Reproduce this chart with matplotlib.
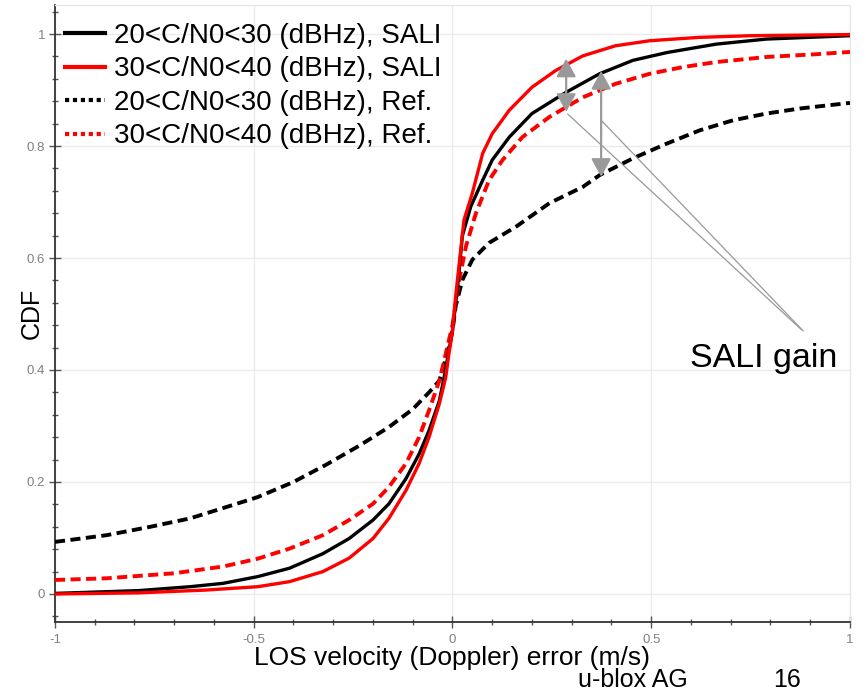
import matplotlib
matplotlib.use('Agg')
import matplotlib.pyplot as plt
from matplotlib.lines import Line2D
from matplotlib.ticker import MultipleLocator

plt.rcParams['font.family'] = ['Liberation Sans', 'DejaVu Sans']

# CDF curves: LOS velocity error (m/s) vs CDF
x_sali_20 = [-1.0, -0.79, -0.66, -0.577, -0.49, -0.41, -0.326, -0.26, -0.20, -0.16, -0.117, -0.084,
             -0.059, -0.033, -0.021, 0.0, 0.013, 0.025, 0.046, 0.076, 0.10, 0.143, 0.20, 0.286,
             0.37, 0.454, 0.54, 0.664, 0.79, 1.0]
y_sali_20 = [0.001, 0.006, 0.013, 0.019, 0.031, 0.046, 0.072, 0.099, 0.132, 0.161, 0.206, 0.25,
             0.292, 0.345, 0.387, 0.47, 0.55, 0.64, 0.692, 0.739, 0.775, 0.816, 0.858, 0.896,
             0.929, 0.953, 0.967, 0.982, 0.991, 0.997]

x_sali_30 = [-1.0, -0.79, -0.62, -0.49, -0.41, -0.326, -0.26, -0.20, -0.16, -0.117, -0.084, -0.059,
             -0.033, -0.017, -0.008, 0.0, 0.008, 0.029, 0.05, 0.076, 0.10, 0.143, 0.20, 0.26,
             0.328, 0.41, 0.496, 0.62, 0.75, 1.0]
y_sali_30 = [0.0, 0.002, 0.007, 0.013, 0.022, 0.040, 0.064, 0.099, 0.135, 0.185, 0.233, 0.28,
             0.34, 0.387, 0.434, 0.47, 0.532, 0.668, 0.716, 0.787, 0.822, 0.864, 0.905, 0.935,
             0.961, 0.979, 0.988, 0.994, 0.997, 0.999]

x_ref_20 = [-1.0, -0.87, -0.76, -0.66, -0.57, -0.49, -0.40, -0.32, -0.234, -0.16, -0.10, -0.059,
            -0.033, -0.013, 0.0, 0.008, 0.025, 0.05, 0.092, 0.16, 0.244, 0.328, 0.37, 0.454,
            0.538, 0.622, 0.706, 0.79, 0.874, 1.0]
y_ref_20 = [0.093, 0.105, 0.12, 0.135, 0.155, 0.173, 0.20, 0.23, 0.265, 0.298, 0.33, 0.36,
            0.381, 0.43, 0.47, 0.514, 0.561, 0.597, 0.627, 0.656, 0.698, 0.727, 0.748, 0.778,
            0.804, 0.828, 0.846, 0.858, 0.867, 0.877]

x_ref_30 = [-1.0, -0.87, -0.70, -0.577, -0.49, -0.41, -0.326, -0.26, -0.20, -0.16, -0.117, -0.084,
            -0.059, -0.033, -0.021, 0.0, 0.017, 0.034, 0.059, 0.092, 0.126, 0.176, 0.244, 0.328,
            0.41, 0.496, 0.58, 0.664, 0.79, 0.916, 1.0]
y_ref_30 = [0.025, 0.028, 0.037, 0.049, 0.063, 0.081, 0.105, 0.132, 0.161, 0.191, 0.233, 0.28,
            0.328, 0.381, 0.417, 0.48, 0.561, 0.621, 0.68, 0.739, 0.775, 0.816, 0.852, 0.887,
            0.911, 0.929, 0.941, 0.95, 0.959, 0.964, 0.968]

labels = ['20<C/N0<30 (dBHz), SALI', '30<C/N0<40 (dBHz), SALI',
          '20<C/N0<30 (dBHz), Ref.', '30<C/N0<40 (dBHz), Ref.']

fig = plt.figure(figsize=(8.66, 6.91), dpi=100)
ax = fig.add_axes([0.0635, 0.0999, 0.918, 0.893])

dash = (0, (2.6, 1.4))
ax.plot(x_ref_20, y_ref_20, color='black', lw=2.8, linestyle=dash, zorder=3)
ax.plot(x_ref_30, y_ref_30, color='red', lw=2.8, linestyle=dash, zorder=3)
ax.plot(x_sali_20, y_sali_20, color='black', lw=2.4, zorder=4)
ax.plot(x_sali_30, y_sali_30, color='red', lw=2.4, zorder=4)

ax.set_xlim(-1, 1)
ax.set_ylim(-0.05, 1.052)
ax.set_xticks([-1, -0.5, 0, 0.5, 1])
ax.set_xticklabels(['-1', '-0.5', '0', '0.5', '1'])
ax.set_yticks([0, 0.2, 0.4, 0.6, 0.8, 1])
ax.set_yticklabels(['0', '0.2', '0.4', '0.6', '0.8', '1'])
ax.xaxis.set_minor_locator(MultipleLocator(0.1))
ax.yaxis.set_minor_locator(MultipleLocator(0.04))
ax.tick_params(which='major', direction='inout', length=8, width=1, color='#555555',
               labelsize=9.5, labelcolor='#808080', pad=3)
ax.tick_params(axis='x', which='major', pad=5)
ax.tick_params(which='minor', direction='inout', length=4, width=1, color='#555555')
ax.grid(True, which='major', color='#ebebeb', lw=1)
ax.set_axisbelow(True)

for side in ['left', 'bottom']:
    ax.spines[side].set_color('#333333')
    ax.spines[side].set_linewidth(1.3)
for side in ['top', 'right']:
    ax.spines[side].set_color('#e8e8e8')
    ax.spines[side].set_linewidth(1)

ax.set_xlabel('LOS velocity (Doppler) error (m/s)', fontsize=19, labelpad=0)
ax.set_ylabel('CDF', fontsize=18)
ax.yaxis.set_label_coords(-0.014, 0.5)

# SALI gain annotation
grey = '#999999'
arrow = dict(arrowstyle='<|-|>,head_length=0.55,head_width=0.3', color=grey, lw=1.6,
             shrinkA=0, shrinkB=0, mutation_scale=20)
ax.annotate('', xy=(0.286, 0.956), xytext=(0.286, 0.861), arrowprops=arrow, zorder=5)
ax.annotate('', xy=(0.374, 0.934), xytext=(0.374, 0.745), arrowprops=arrow, zorder=5)
ax.plot([0.290, 0.878], [0.857, 0.472], color=grey, lw=0.9, zorder=5)
ax.plot([0.374, 0.882], [0.846, 0.470], color=grey, lw=0.9, zorder=5)
ax.text(0.597, 0.405, 'SALI gain', fontsize=24.5, ha='left', va='baseline')

handles = [Line2D([], [], color='black', lw=3),
           Line2D([], [], color='red', lw=3),
           Line2D([], [], color='black', lw=3, linestyle=(0, (1, 0.9))),
           Line2D([], [], color='red', lw=3, linestyle=(0, (1, 0.9)))]
ax.legend(handles, labels, loc='upper left', bbox_to_anchor=(0.0126, 0.971), frameon=False,
          fontsize=20, borderpad=0, borderaxespad=0, handlelength=1.45, handletextpad=0.3,
          labelspacing=0.27)

fig.text(578 / 866, 1 - 687 / 691, 'u-blox AG', fontsize=18, ha='left', va='baseline')
fig.text(773 / 866, 1 - 687 / 691, '16', fontsize=18, ha='left', va='baseline')

fig.savefig('out.png', dpi=100)
plt.close(fig)
